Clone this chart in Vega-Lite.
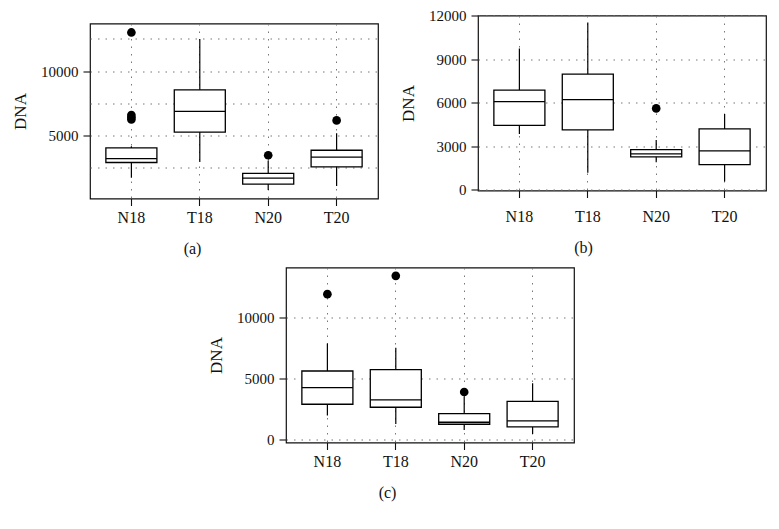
{
  "$schema": "https://vega.github.io/schema/vega-lite/v6.json",
  "padding": {"left": 10, "top": 7.5, "right": 5, "bottom": 5},
  "background": "white",
  "datasets": {
    "boxes": [
      {"panel": "a", "grp": "N18", "lo": 1723, "q1": 2913, "med": 3222, "q3": 4042, "hi": 4173},
      {"panel": "a", "grp": "T18", "lo": 2960, "q1": 5278, "med": 6878, "q3": 8555, "hi": 12496},
      {"panel": "a", "grp": "N20", "lo": 773, "q1": 1236, "med": 1700, "q3": 2063, "hi": 3068},
      {"panel": "a", "grp": "T20", "lo": 1082, "q1": 2575, "med": 3323, "q3": 3864, "hi": 5178},
      {"panel": "b", "grp": "N18", "lo": 3841, "q1": 4434, "med": 6069, "q3": 6876, "hi": 9745},
      {"panel": "b", "grp": "T18", "lo": 1152, "q1": 4117, "med": 6207, "q3": 7979, "hi": 11540},
      {"panel": "b", "grp": "N20", "lo": 1883, "q1": 2255, "med": 2462, "q3": 2759, "hi": 3428},
      {"panel": "b", "grp": "T20", "lo": 552, "q1": 1724, "med": 2669, "q3": 4186, "hi": 5221},
      {"panel": "c", "grp": "N18", "lo": 1940, "q1": 2869, "med": 4235, "q3": 5601, "hi": 7869},
      {"panel": "c", "grp": "T18", "lo": 1257, "q1": 2623, "med": 3224, "q3": 5710, "hi": 7513},
      {"panel": "c", "grp": "N20", "lo": 765, "q1": 1229, "med": 1393, "q3": 2104, "hi": 3497},
      {"panel": "c", "grp": "T20", "lo": 437, "q1": 1011, "med": 1503, "q3": 3115, "hi": 4590}
    ],
    "outliers": [
      {"panel": "a", "grp": "N18", "val": 13006},
      {"panel": "a", "grp": "N18", "val": 6600},
      {"panel": "a", "grp": "N18", "val": 6420},
      {"panel": "a", "grp": "N18", "val": 6250},
      {"panel": "a", "grp": "N20", "val": 3478},
      {"panel": "a", "grp": "T20", "val": 6182},
      {"panel": "b", "grp": "N20", "val": 5607},
      {"panel": "c", "grp": "N18", "val": 11912},
      {"panel": "c", "grp": "T18", "val": 13414},
      {"panel": "c", "grp": "N20", "val": 3879}
    ]
  },
  "vconcat": [
    {
      "hconcat": [
        {
          "vconcat": [
            {
              "width": 288, "height": 1,
              "data": {"values": []},
              "mark": {"type": "point", "opacity": 0},
              "encoding": {},
              "view": {"stroke": null}
            },
            {
              "width": 288, "height": 175,
              "layer": [
                {
                  "data": {"name": "boxes"},
                  "transform": [{"filter": "datum.panel === 'a'"}],
                  "mark": {"type": "rule", "color": "black", "strokeWidth": 1.2},
                  "encoding": {
                    "x": {"field": "grp", "type": "nominal", "scale": {"type": "band", "domain": ["N18", "T18", "N20", "T20"], "paddingInner": 0.254, "paddingOuter": 0.232},
                      "axis": {"title": "(a)", "grid": true, "bandPosition": 0.5, "labelAngle": 0, "labelPadding": 4, "titlePadding": 15, "titleX": 102}},
                    "y": {"field": "lo", "type": "quantitative", "scale": {"domain": [120, 13700], "nice": false, "zero": false},
                      "axis": {"title": "DNA", "values": [2500, 5000, 7500, 10000, 12500], "format": "d",
                        "labelExpr": "datum.value % 5000 === 0 ? datum.label : ''",
                        "tickOpacity": {"condition": {"test": "datum.value % 5000 === 0", "value": 1}, "value": 0}}},
                    "y2": {"field": "hi"}
                  }
                },
                {
                  "data": {"name": "boxes"},
                  "transform": [{"filter": "datum.panel === 'a'"}],
                  "mark": {"type": "bar", "fill": "white", "stroke": "black", "strokeWidth": 1.3, "opacity": 1},
                  "encoding": {
                    "x": {"field": "grp", "type": "nominal"},
                    "y": {"field": "q1", "type": "quantitative"},
                    "y2": {"field": "q3"}
                  }
                },
                {
                  "data": {"name": "boxes"},
                  "transform": [{"filter": "datum.panel === 'a'"}],
                  "mark": {"type": "tick", "color": "black", "size": 51, "thickness": 1.3, "opacity": 1},
                  "encoding": {
                    "x": {"field": "grp", "type": "nominal"},
                    "y": {"field": "med", "type": "quantitative"}
                  }
                },
                {
                  "data": {"name": "outliers"},
                  "transform": [{"filter": "datum.panel === 'a'"}],
                  "mark": {"type": "point", "filled": true, "color": "black", "size": 75, "opacity": 1},
                  "encoding": {
                    "x": {"field": "grp", "type": "nominal"},
                    "y": {"field": "val", "type": "quantitative"}
                  }
                }
              ]
            }
          ],
          "spacing": 6
        },
        {
          "width": 288, "height": 175,
          "layer": [
            {
              "data": {"name": "boxes"},
              "transform": [{"filter": "datum.panel === 'b'"}],
              "mark": {"type": "rule", "color": "black", "strokeWidth": 1.2},
              "encoding": {
                "x": {"field": "grp", "type": "nominal", "scale": {"type": "band", "domain": ["N18", "T18", "N20", "T20"], "paddingInner": 0.254, "paddingOuter": 0.232},
                  "axis": {"title": "(b)", "grid": true, "bandPosition": 0.5, "labelAngle": 0, "labelPadding": 10.5, "titlePadding": 15, "titleX": 105}},
                "y": {"field": "lo", "type": "quantitative", "scale": {"domain": [-70, 12030], "nice": false, "zero": false},
                  "axis": {"title": "DNA", "values": [0, 1500, 3000, 4500, 6000, 7500, 9000, 10500, 12000], "format": "d",
                    "labelExpr": "datum.value % 3000 === 0 ? datum.label : ''",
                    "tickOpacity": {"condition": {"test": "datum.value % 3000 === 0", "value": 1}, "value": 0}}},
                "y2": {"field": "hi"}
              }
            },
            {
              "data": {"name": "boxes"},
              "transform": [{"filter": "datum.panel === 'b'"}],
              "mark": {"type": "bar", "fill": "white", "stroke": "black", "strokeWidth": 1.3, "opacity": 1},
              "encoding": {
                "x": {"field": "grp", "type": "nominal"},
                "y": {"field": "q1", "type": "quantitative"},
                "y2": {"field": "q3"}
              }
            },
            {
              "data": {"name": "boxes"},
              "transform": [{"filter": "datum.panel === 'b'"}],
              "mark": {"type": "tick", "color": "black", "size": 51, "thickness": 1.3, "opacity": 1},
              "encoding": {
                "x": {"field": "grp", "type": "nominal"},
                "y": {"field": "med", "type": "quantitative"}
              }
            },
            {
              "data": {"name": "outliers"},
              "transform": [{"filter": "datum.panel === 'b'"}],
              "mark": {"type": "point", "filled": true, "color": "black", "size": 75, "opacity": 1},
              "encoding": {
                "x": {"field": "grp", "type": "nominal"},
                "y": {"field": "val", "type": "quantitative"}
              }
            }
          ]
        }
      ],
      "spacing": 19
    },
    {
      "concat": [
        {
          "width": 106, "height": 1,
          "data": {"values": []},
          "mark": {"type": "point", "opacity": 0},
          "encoding": {},
          "view": {"stroke": null}
        },
        {
          "width": 288, "height": 175,
          "layer": [
            {
              "data": {"name": "boxes"},
              "transform": [{"filter": "datum.panel === 'c'"}],
              "mark": {"type": "rule", "color": "black", "strokeWidth": 1.2},
              "encoding": {
                "x": {"field": "grp", "type": "nominal", "scale": {"type": "band", "domain": ["N18", "T18", "N20", "T20"], "paddingInner": 0.254, "paddingOuter": 0.232},
                  "axis": {"title": "(c)", "grid": true, "bandPosition": 0.5, "labelAngle": 0, "labelPadding": 3.5, "titlePadding": 15, "titleX": 101}},
                "y": {"field": "lo", "type": "quantitative", "scale": {"domain": [-270, 14100], "nice": false, "zero": false},
                  "axis": {"title": "DNA", "values": [0, 2500, 5000, 7500, 10000, 12500], "format": "d",
                    "labelExpr": "datum.value % 5000 === 0 ? datum.label : ''",
                    "tickOpacity": {"condition": {"test": "datum.value % 5000 === 0", "value": 1}, "value": 0}}},
                "y2": {"field": "hi"}
              }
            },
            {
              "data": {"name": "boxes"},
              "transform": [{"filter": "datum.panel === 'c'"}],
              "mark": {"type": "bar", "fill": "white", "stroke": "black", "strokeWidth": 1.3, "opacity": 1},
              "encoding": {
                "x": {"field": "grp", "type": "nominal"},
                "y": {"field": "q1", "type": "quantitative"},
                "y2": {"field": "q3"}
              }
            },
            {
              "data": {"name": "boxes"},
              "transform": [{"filter": "datum.panel === 'c'"}],
              "mark": {"type": "tick", "color": "black", "size": 51, "thickness": 1.3, "opacity": 1},
              "encoding": {
                "x": {"field": "grp", "type": "nominal"},
                "y": {"field": "med", "type": "quantitative"}
              }
            },
            {
              "data": {"name": "outliers"},
              "transform": [{"filter": "datum.panel === 'c'"}],
              "mark": {"type": "point", "filled": true, "color": "black", "size": 75, "opacity": 1},
              "encoding": {
                "x": {"field": "grp", "type": "nominal"},
                "y": {"field": "val", "type": "quantitative"}
              }
            }
          ]
        }
      ],
      "columns": 2,
      "align": "each",
      "spacing": 10
    }
  ],
  "spacing": 9,
  "config": {
    "font": "Liberation Serif",
    "view": {"stroke": "#111", "strokeWidth": 1.2},
    "axis": {
      "domain": false,
      "tickColor": "#111",
      "tickSize": 7,
      "tickWidth": 1.1,
      "labelColor": "#111",
      "titleColor": "#111",
      "labelFont": "Liberation Serif",
      "titleFont": "Liberation Serif",
      "titleFontWeight": "normal",
      "gridColor": "#777",
      "gridDash": [1.5, 6],
      "gridWidth": 1
    },
    "axisX": {"labelFontSize": 16, "titleFontSize": 16},
    "axisY": {"labelFontSize": 15, "titleFontSize": 17, "labelPadding": 5, "titlePadding": 11}
  }
}
